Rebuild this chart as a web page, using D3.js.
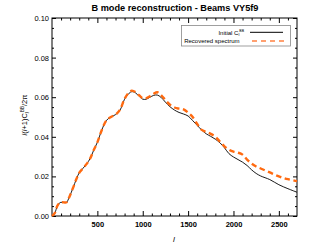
<!DOCTYPE html>
<html>
<head>
<meta charset="utf-8">
<script src="https://d3js.org/d3.v7.min.js"></script>
<style>
  body { margin: 0; background: #fff; }
  svg text { font-family: "Liberation Sans", Arial, sans-serif; fill: #000; }
</style>
</head>
<body>
<div id="chart"></div>
<script>
// multipole l
var ell = [0, 30, 60, 90, 130, 160, 190, 230, 270, 300, 340, 380, 420, 460, 500, 550, 600, 650, 700, 750,
  800, 850, 880, 920, 960, 1000, 1040, 1080, 1120, 1160, 1200, 1250, 1300, 1350, 1400, 1450, 1500, 1550,
  1600, 1650, 1700, 1750, 1800, 1850, 1900, 1950, 2000, 2050, 2100, 2150, 2200, 2250, 2300, 2400, 2500, 2600, 2700];
// initial C_l^BB
var initialCl = [0, 0.0014, 0.0052, 0.0068, 0.0069, 0.0069, 0.0095, 0.0140, 0.0188, 0.0218, 0.0240, 0.0262, 0.0290, 0.0333, 0.0372, 0.0436, 0.0483, 0.0500, 0.0512, 0.0535,
  0.0590, 0.0620, 0.0628, 0.0622, 0.0605, 0.0590, 0.0590, 0.0600, 0.0609, 0.0611, 0.0600, 0.0575, 0.0552, 0.0535, 0.0523, 0.0515, 0.0505, 0.0482,
  0.0458, 0.0434, 0.0415, 0.0402, 0.0388, 0.0370, 0.0345, 0.0315, 0.0298, 0.0285, 0.0272, 0.0255, 0.0233, 0.0215, 0.0202, 0.0184, 0.0158, 0.0138, 0.0120];
// recovered spectrum
var recovered = [0, 0.0014, 0.0052, 0.0068, 0.0069, 0.0069, 0.0095, 0.0140, 0.0188, 0.0218, 0.0240, 0.0262, 0.0290, 0.0333, 0.0372, 0.0436, 0.0483, 0.0500, 0.0512, 0.0537,
  0.0592, 0.0625, 0.0633, 0.0626, 0.0610, 0.0595, 0.0595, 0.0605, 0.0617, 0.0625, 0.0612, 0.0585, 0.0562, 0.0548, 0.0542, 0.0538, 0.0522, 0.0500,
  0.0465, 0.0435, 0.0425, 0.0415, 0.0400, 0.0376, 0.0352, 0.0335, 0.0325, 0.0320, 0.0310, 0.0285, 0.0265, 0.0250, 0.0240, 0.0220, 0.0200, 0.0186, 0.0176];

var xTicks = [500, 1000, 1500, 2000, 2500];
var yTicks = [0, 0.02, 0.04, 0.06, 0.08, 0.10];

var W = 314, H = 251;
var margin = {top: 18, right: 17, bottom: 35, left: 52};
var w = W - margin.left - margin.right,
    h = H - margin.top - margin.bottom;

var svg = d3.select('#chart').append('svg').attr('width', W).attr('height', H);
var g = svg.append('g').attr('transform', 'translate(' + margin.left + ',' + margin.top + ')');

var x = d3.scaleLinear().domain([0, 2700]).range([0, w]);
var y = d3.scaleLinear().domain([0, 0.10]).range([h, 0]);

var xMinor = d3.range(100, 2700, 100).filter(d => d % 500 !== 0);
var yMinor = d3.range(0.005, 0.1, 0.005).filter(d => Math.abs(d / 0.02 - Math.round(d / 0.02)) > 0.01);

function axisPart(axisFn, scale, ticks, size, fmt) {
  return axisFn(scale).tickValues(ticks).tickSize(size).tickPadding(3).tickFormat(fmt);
}

// axes, ticks pointing inward on all four sides
var axBottom = g.append('g').attr('transform', 'translate(0,' + h + ')')
  .call(axisPart(d3.axisBottom, x, xTicks, -5, d3.format('d')));
axBottom.selectAll('text').attr('font-size', '7.5px').attr('font-weight', 'bold').attr('dy', '1.1em');
g.append('g').attr('transform', 'translate(0,' + h + ')').call(axisPart(d3.axisBottom, x, xMinor, -2.5, ''));

g.append('g').call(axisPart(d3.axisTop, x, xTicks, -5, ''));
g.append('g').call(axisPart(d3.axisTop, x, xMinor, -2.5, ''));

var axLeft = g.append('g').call(axisPart(d3.axisLeft, y, yTicks, -4, d3.format('.2f')));
axLeft.selectAll('text').attr('font-size', '7.5px');
g.append('g').call(axisPart(d3.axisLeft, y, yMinor, -2, ''));

g.append('g').attr('transform', 'translate(' + w + ',0)').call(axisPart(d3.axisRight, y, yTicks, -4, ''));
g.append('g').attr('transform', 'translate(' + w + ',0)').call(axisPart(d3.axisRight, y, yMinor, -2, ''));

g.selectAll('.domain').remove();
g.selectAll('.tick line').attr('stroke', '#000').attr('stroke-width', 1);

g.append('rect').attr('width', w).attr('height', h)
  .attr('fill', 'none').attr('stroke', '#000').attr('stroke-width', 1);

// curves
var line = d3.line().x((d, i) => x(ell[i])).y(d => y(d)).curve(d3.curveCatmullRom);

g.append('path').datum(initialCl).attr('d', line)
  .attr('fill', 'none').attr('stroke', '#000').attr('stroke-width', 0.9);
g.append('path').datum(recovered).attr('d', line)
  .attr('fill', 'none').attr('stroke', '#ff6a10').attr('stroke-width', 2.4)
  .attr('stroke-dasharray', '5.5,3.5');

// title
svg.append('text').attr('x', 175).attr('y', 11).attr('text-anchor', 'middle')
  .attr('font-size', '9.2px').attr('font-weight', 'bold')
  .text('B mode reconstruction - Beams VY5f9');

// axis titles
svg.append('text').attr('x', 174).attr('y', 242).attr('text-anchor', 'middle')
  .attr('font-size', '8px').attr('font-style', 'italic').text('l');

var yl = svg.append('text').attr('transform', 'translate(27,115) rotate(-90)')
  .attr('text-anchor', 'middle').attr('font-size', '7.5px');
yl.append('tspan').attr('font-style', 'italic').text('l');
yl.append('tspan').text('(');
yl.append('tspan').attr('font-style', 'italic').text('l');
yl.append('tspan').text('+1)C');
yl.append('tspan').attr('font-style', 'italic').attr('font-size', '5px').attr('dy', 2).text('l');
yl.append('tspan').attr('font-size', '4.5px').attr('dy', -5).text('BB');
yl.append('tspan').attr('dy', 3).text('/2π');

// legend
var lg = svg.append('g');
lg.append('rect').attr('x', 181.5).attr('y', 25.5).attr('width', 109).attr('height', 20.5)
  .attr('fill', '#fff').attr('stroke', '#888').attr('stroke-width', 0.8);
var t1 = lg.append('text').attr('x', 244).attr('y', 34.5).attr('text-anchor', 'end').attr('font-size', '6px');
t1.append('tspan').text('Initial C');
t1.append('tspan').attr('font-size', '4px').attr('dy', 1.5).text('l');
t1.append('tspan').attr('font-size', '3.5px').attr('dy', -4).text('BB');
lg.append('text').attr('x', 239.5).attr('y', 43).attr('text-anchor', 'end').attr('font-size', '6px')
  .text('Recovered spectrum');
lg.append('line').attr('x1', 250).attr('x2', 283).attr('y1', 32.3).attr('y2', 32.3)
  .attr('stroke', '#000').attr('stroke-width', 1);
lg.append('line').attr('x1', 252).attr('x2', 284).attr('y1', 41).attr('y2', 41)
  .attr('stroke', '#ffa070').attr('stroke-width', 2).attr('stroke-dasharray', '5,4');
</script>
</body>
</html>
